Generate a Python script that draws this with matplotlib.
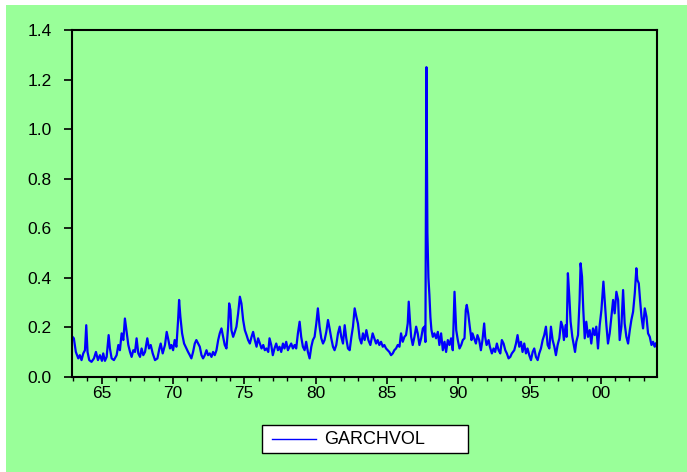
#!/usr/bin/env python3
"""
GARCH 波动率时间序列图 (EViews 风格)
"""

import matplotlib
matplotlib.use("Agg")
import matplotlib.pyplot as plt
from matplotlib.patches import Rectangle
from matplotlib.lines import Line2D
from matplotlib.ticker import FixedLocator, MultipleLocator

# 日期 (小数年) 与条件波动率
dates = [
    1962.97, 1963.05, 1963.19, 1963.36, 1963.47, 1963.59, 1963.71, 1963.83, 1963.92, 1964.01,
    1964.13, 1964.29, 1964.46, 1964.60, 1964.74, 1964.88, 1965.02, 1965.11, 1965.23, 1965.35,
    1965.49, 1965.58, 1965.70, 1965.86, 1966.05, 1966.17, 1966.28, 1966.40, 1966.52, 1966.63,
    1966.75, 1966.87, 1966.99, 1967.10, 1967.22, 1967.34, 1967.45, 1967.57, 1967.69, 1967.80,
    1967.92, 1968.04, 1968.20, 1968.32, 1968.44, 1968.58, 1968.74, 1968.91, 1969.05, 1969.14,
    1969.28, 1969.44, 1969.56, 1969.68, 1969.79, 1969.89, 1970.01, 1970.12, 1970.24, 1970.36,
    1970.43, 1970.52, 1970.64, 1970.78, 1970.94, 1971.06, 1971.18, 1971.29, 1971.41, 1971.53,
    1971.64, 1971.76, 1971.88, 1972.00, 1972.11, 1972.23, 1972.35, 1972.46, 1972.58, 1972.70,
    1972.81, 1972.93, 1973.05, 1973.17, 1973.28, 1973.40, 1973.52, 1973.63, 1973.75, 1973.87,
    1973.94, 1974.03, 1974.10, 1974.22, 1974.34, 1974.45, 1974.57, 1974.69, 1974.80, 1974.92,
    1975.04, 1975.16, 1975.27, 1975.39, 1975.51, 1975.62, 1975.74, 1975.86, 1975.97, 1976.09,
    1976.21, 1976.33, 1976.44, 1976.56, 1976.68, 1976.77, 1976.89, 1977.00, 1977.12, 1977.24,
    1977.36, 1977.47, 1977.59, 1977.71, 1977.82, 1977.94, 1978.06, 1978.17, 1978.29, 1978.41,
    1978.53, 1978.64, 1978.76, 1978.88, 1978.99, 1979.11, 1979.23, 1979.34, 1979.46, 1979.58,
    1979.70, 1979.81, 1979.93, 1980.05, 1980.16, 1980.28, 1980.40, 1980.52, 1980.63, 1980.75,
    1980.87, 1980.98, 1981.10, 1981.22, 1981.33, 1981.45, 1981.57, 1981.69, 1981.80, 1981.92,
    1982.04, 1982.15, 1982.27, 1982.39, 1982.51, 1982.62, 1982.74, 1982.86, 1982.97, 1983.09,
    1983.21, 1983.32, 1983.44, 1983.56, 1983.70, 1983.84, 1984.00, 1984.12, 1984.24, 1984.35,
    1984.47, 1984.59, 1984.71, 1984.82, 1984.94, 1985.06, 1985.17, 1985.29, 1985.41, 1985.52,
    1985.64, 1985.76, 1985.88, 1985.99, 1986.11, 1986.23, 1986.34, 1986.46, 1986.53, 1986.63,
    1986.70, 1986.81, 1986.93, 1987.05, 1987.16, 1987.28, 1987.40, 1987.52, 1987.63, 1987.70,
    1987.77, 1987.84, 1987.91, 1987.98, 1988.05, 1988.12, 1988.22, 1988.33, 1988.45, 1988.57,
    1988.68, 1988.80, 1988.92, 1989.04, 1989.15, 1989.27, 1989.39, 1989.50, 1989.62, 1989.74,
    1989.86, 1989.97, 1990.09, 1990.21, 1990.32, 1990.44, 1990.53, 1990.60, 1990.70, 1990.81,
    1990.93, 1991.00, 1991.12, 1991.24, 1991.35, 1991.47, 1991.59, 1991.70, 1991.82, 1991.89,
    1991.99, 1992.13, 1992.22, 1992.36, 1992.48, 1992.59, 1992.71, 1992.83, 1992.95, 1993.06,
    1993.18, 1993.30, 1993.41, 1993.53, 1993.65, 1993.76, 1993.93, 1994.05, 1994.16, 1994.28,
    1994.40, 1994.51, 1994.63, 1994.75, 1994.86, 1994.98, 1995.10, 1995.22, 1995.33, 1995.45,
    1995.57, 1995.68, 1995.80, 1995.92, 1996.03, 1996.15, 1996.27, 1996.39, 1996.50, 1996.62,
    1996.74, 1996.85, 1996.97, 1997.09, 1997.21, 1997.32, 1997.41, 1997.53, 1997.60, 1997.69,
    1997.79, 1997.88, 1998.00, 1998.12, 1998.19, 1998.28, 1998.40, 1998.51, 1998.58, 1998.68,
    1998.77, 1998.87, 1998.98, 1999.10, 1999.22, 1999.33, 1999.45, 1999.57, 1999.68, 1999.80,
    1999.92, 2000.04, 2000.18, 2000.27, 2000.39, 2000.50, 2000.62, 2000.74, 2000.86, 2000.97,
    2001.09, 2001.21, 2001.32, 2001.44, 2001.56, 2001.67, 2001.79, 2001.91, 2002.03, 2002.14,
    2002.26, 2002.38, 2002.49, 2002.56, 2002.66, 2002.75, 2002.85, 2002.96, 2003.08, 2003.20,
    2003.31, 2003.43, 2003.55, 2003.66, 2003.78, 2003.85,
]

garchvol = [
    0.160, 0.155, 0.100, 0.074, 0.087, 0.067, 0.094, 0.107, 0.208, 0.100,
    0.067, 0.060, 0.074, 0.100, 0.067, 0.087, 0.064, 0.094, 0.064, 0.080,
    0.168, 0.114, 0.074, 0.067, 0.087, 0.128, 0.107, 0.175, 0.148, 0.235,
    0.181, 0.128, 0.100, 0.080, 0.107, 0.100, 0.155, 0.094, 0.080, 0.114,
    0.087, 0.100, 0.155, 0.114, 0.128, 0.094, 0.067, 0.074, 0.114, 0.134,
    0.094, 0.128, 0.181, 0.148, 0.114, 0.128, 0.107, 0.148, 0.121, 0.229,
    0.310, 0.242, 0.175, 0.134, 0.114, 0.100, 0.087, 0.074, 0.100, 0.134,
    0.148, 0.134, 0.121, 0.087, 0.074, 0.087, 0.107, 0.087, 0.094, 0.080,
    0.100, 0.087, 0.107, 0.148, 0.175, 0.195, 0.161, 0.128, 0.114, 0.202,
    0.296, 0.269, 0.188, 0.161, 0.181, 0.202, 0.256, 0.323, 0.296, 0.229,
    0.188, 0.168, 0.148, 0.134, 0.161, 0.181, 0.148, 0.121, 0.155, 0.134,
    0.114, 0.128, 0.107, 0.114, 0.100, 0.155, 0.128, 0.087, 0.114, 0.134,
    0.107, 0.121, 0.100, 0.134, 0.114, 0.141, 0.107, 0.121, 0.134, 0.114,
    0.128, 0.114, 0.175, 0.222, 0.161, 0.121, 0.107, 0.141, 0.100, 0.074,
    0.121, 0.148, 0.161, 0.215, 0.276, 0.202, 0.155, 0.134, 0.148, 0.181,
    0.229, 0.195, 0.155, 0.121, 0.107, 0.128, 0.175, 0.202, 0.161, 0.134,
    0.208, 0.155, 0.114, 0.107, 0.161, 0.202, 0.276, 0.242, 0.215, 0.155,
    0.134, 0.175, 0.148, 0.188, 0.148, 0.128, 0.175, 0.155, 0.134, 0.148,
    0.128, 0.141, 0.121, 0.128, 0.114, 0.107, 0.100, 0.087, 0.094, 0.107,
    0.114, 0.128, 0.121, 0.175, 0.141, 0.161, 0.168, 0.215, 0.303, 0.215,
    0.161, 0.128, 0.161, 0.202, 0.175, 0.128, 0.155, 0.195, 0.202, 0.140,
    1.250, 0.580, 0.400, 0.330, 0.240, 0.190, 0.161, 0.175, 0.155, 0.181,
    0.128, 0.175, 0.107, 0.141, 0.100, 0.148, 0.128, 0.155, 0.107, 0.343,
    0.188, 0.148, 0.114, 0.128, 0.148, 0.155, 0.269, 0.290, 0.256, 0.202,
    0.148, 0.175, 0.155, 0.134, 0.168, 0.148, 0.107, 0.148, 0.215, 0.161,
    0.128, 0.148, 0.121, 0.094, 0.114, 0.100, 0.134, 0.107, 0.094, 0.148,
    0.134, 0.107, 0.094, 0.074, 0.080, 0.094, 0.107, 0.134, 0.168, 0.121,
    0.141, 0.100, 0.134, 0.094, 0.114, 0.087, 0.067, 0.100, 0.114, 0.080,
    0.067, 0.094, 0.114, 0.148, 0.168, 0.202, 0.128, 0.114, 0.202, 0.148,
    0.121, 0.087, 0.128, 0.155, 0.222, 0.202, 0.148, 0.208, 0.161, 0.418,
    0.323, 0.222, 0.161, 0.121, 0.100, 0.141, 0.168, 0.310, 0.458, 0.404,
    0.269, 0.155, 0.222, 0.161, 0.188, 0.134, 0.195, 0.168, 0.202, 0.114,
    0.208, 0.269, 0.384, 0.310, 0.208, 0.134, 0.175, 0.242, 0.310, 0.256,
    0.343, 0.310, 0.148, 0.202, 0.350, 0.215, 0.161, 0.134, 0.188, 0.229,
    0.262, 0.337, 0.438, 0.391, 0.377, 0.310, 0.242, 0.195, 0.276, 0.242,
    0.175, 0.161, 0.128, 0.141, 0.121, 0.134,
]

# 坐标轴刻度
year_ticks = [1965, 1970, 1975, 1980, 1985, 1990, 1995, 2000]
year_labels = ["65", "70", "75", "80", "85", "90", "95", "00"]
y_ticks = [0.0, 0.2, 0.4, 0.6, 0.8, 1.0, 1.2, 1.4]
series_name = "GARCHVOL"

BG_GREEN = "#99FF99"
LINE_BLUE = "#0000FF"


def create_vol_chart(save_path="out.png"):
    """
    画 GARCH 波动率折线图
    """
    plt.rcParams["font.family"] = ["Liberation Sans", "DejaVu Sans"]

    fig = plt.figure(figsize=(6.87, 4.72), dpi=100, facecolor="white")
    # 绿色背景 (左上留一点白边)
    fig.patches.append(Rectangle((6 / 687, 0), 1 - 6 / 687, 1 - 5 / 472,
                                 transform=fig.transFigure, facecolor=BG_GREEN,
                                 edgecolor="none", zorder=-10))

    ax = fig.add_axes([0.1052, 0.2019, 0.8516, 0.7345])
    ax.set_facecolor(BG_GREEN)

    ax.plot(dates, garchvol, color=LINE_BLUE, linewidth=1.6)

    ax.set_xlim(1962.94, 2003.96)
    ax.set_ylim(0, 1.4)

    ax.xaxis.set_major_locator(FixedLocator(year_ticks))
    ax.set_xticklabels(year_labels)
    ax.xaxis.set_minor_locator(MultipleLocator(1))
    ax.set_yticks(y_ticks)
    ax.set_yticklabels([f"{v:.1f}" for v in y_ticks])

    ax.tick_params(axis="both", which="major", labelsize=12.5, colors="black",
                   width=1.2, direction="out")
    ax.tick_params(axis="y", length=6, pad=9)
    ax.tick_params(axis="x", which="major", length=5, pad=2)
    ax.tick_params(axis="x", which="minor", length=3, width=1.0)

    for sp in ax.spines.values():
        sp.set_linewidth(1.5)
        sp.set_color("black")

    # 图例 (EViews 风格, 白底黑框)
    fig.patches.append(Rectangle((262 / 687, 1 - 453 / 472), 206 / 687, 28 / 472,
                                 transform=fig.transFigure, facecolor="white",
                                 edgecolor="black", linewidth=1.0))
    fig.add_artist(Line2D([272 / 687, 316 / 687], [1 - 439 / 472, 1 - 439 / 472],
                          transform=fig.transFigure, color=LINE_BLUE, linewidth=1.0))
    fig.text(324 / 687, 1 - 439 / 472, series_name, fontsize=13,
             va="center", ha="left")

    fig.savefig(save_path, dpi=100, facecolor=fig.get_facecolor())
    return fig


if __name__ == "__main__":
    create_vol_chart("out.png")
